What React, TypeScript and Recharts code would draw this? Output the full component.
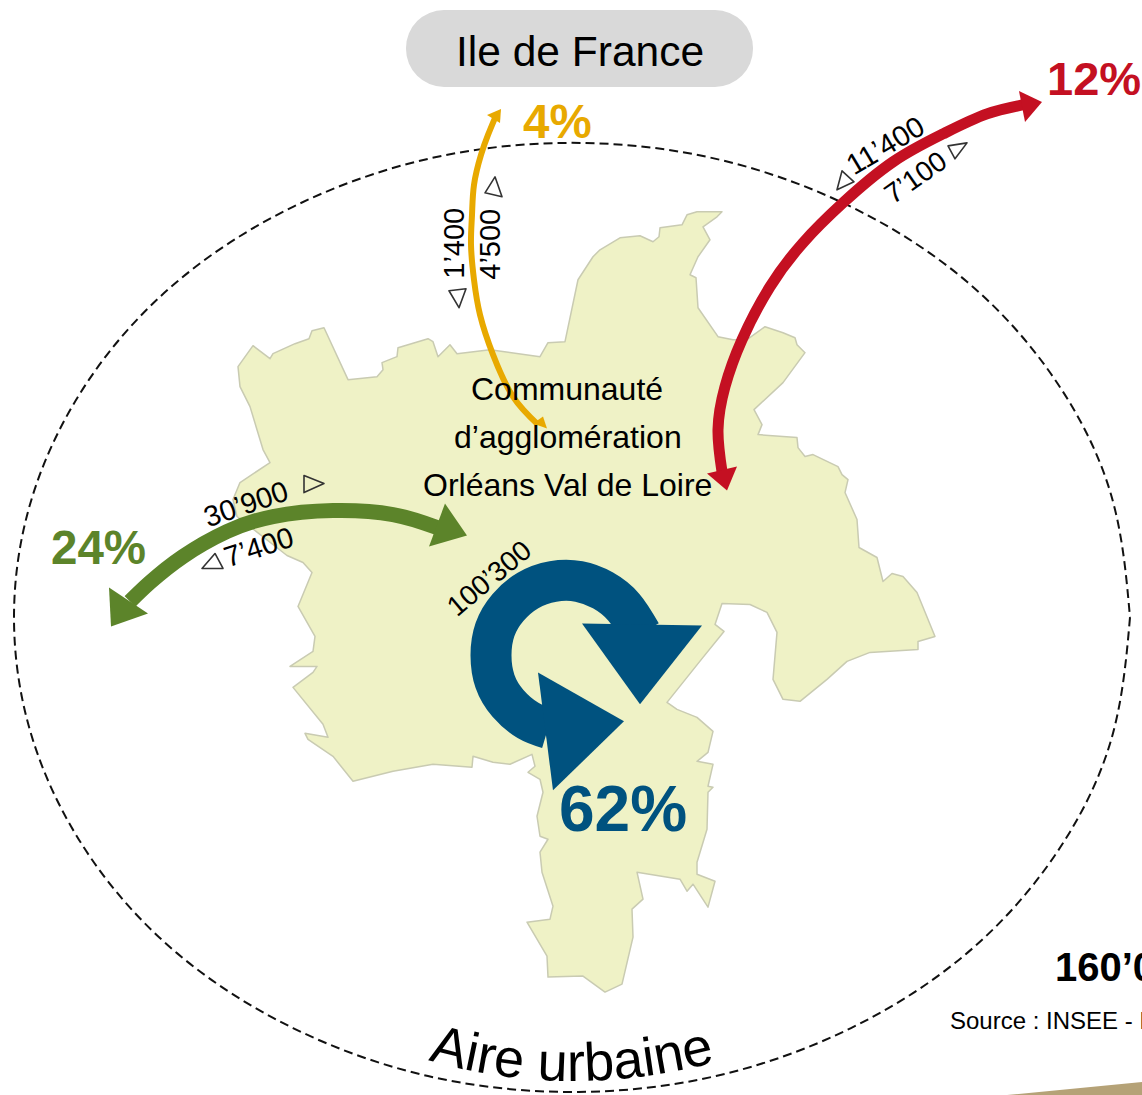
import React from 'react';
import { ScatterChart, Scatter, XAxis, YAxis, ReferenceArea } from 'recharts';

type Pt = { x: number; y: number };
const pts = (rows: number[][]): Pt[] => rows.map(([x, y]) => ({ x, y }));

const regionOutline = pts([
  [238, 367], [253, 346], [270, 359], [273, 354], [295, 344], [309, 339], [312, 331], [324, 328], [348, 380],
  [377, 377], [383, 370], [382, 363], [397, 357], [398, 348], [428, 339], [433, 342], [438, 357], [450, 345],
  [457, 354], [490, 350], [540, 357], [548, 343], [565, 342], [578, 280], [593, 257], [600, 250], [620, 238],
  [640, 236], [653, 242], [659, 237], [660, 228], [682, 225], [687, 215], [697, 212], [722, 212], [717, 217],
  [703, 227], [710, 240], [698, 257], [690, 275], [696, 278], [698, 308], [718, 337], [733, 340], [747, 340],
  [765, 327], [783, 333], [795, 338], [797, 345], [805, 353], [783, 383], [754, 410], [762, 425], [758, 435],
  [797, 438], [798, 448], [805, 457], [813, 455], [838, 467], [842, 475], [848, 480], [845, 493], [857, 520],
  [859, 548], [877, 558], [883, 582], [892, 574], [903, 577], [917, 593], [935, 637], [918, 642], [918, 650],
  [870, 653], [847, 662], [827, 680], [800, 702], [783, 700], [773, 680], [777, 633], [767, 613], [750, 605],
  [722, 604], [715, 625], [724, 632], [703, 658], [667, 703], [677, 710], [697, 718], [713, 732], [708, 753],
  [697, 762], [713, 765], [708, 787], [713, 788], [708, 793], [707, 830], [697, 863], [697, 875], [715, 882],
  [708, 908], [693, 885], [687, 892], [680, 880], [637, 873], [643, 900], [632, 910], [633, 938], [622, 985],
  [605, 993], [583, 977], [548, 978], [547, 957], [527, 923], [550, 920], [553, 907], [542, 873], [540, 853],
  [548, 840], [540, 837], [537, 817], [543, 793], [540, 780], [528, 773], [535, 767], [532, 755], [510, 765],
  [493, 763], [473, 757], [472, 768], [433, 765], [393, 772], [353, 782], [333, 757], [308, 740], [305, 734],
  [328, 738], [323, 725], [293, 688], [313, 673], [317, 667], [290, 667], [313, 652], [315, 637], [298, 607],
  [312, 573], [303, 563], [287, 556], [237, 517], [233, 500], [240, 483], [270, 463], [263, 450], [250, 407],
  [240, 387],
]);

const urbanArea = pts([
  [1130, 618], [1111, 741], [1055, 856], [967, 954], [851, 1029], [716, 1077], [572, 1093], [428, 1077],
  [293, 1029], [177, 954], [89, 856], [33, 741], [14, 618], [33, 495], [89, 380], [177, 282], [293, 207],
  [428, 159], [572, 143], [716, 159], [851, 207], [967, 282], [1055, 380], [1111, 495], [1130, 618],
]);

const idfFlow = pts([[495, 118], [488, 135], [481, 155], [474, 185], [472, 215], [471, 245], [474, 280], [480, 315], [493, 355], [513, 397], [538, 425]]);
const idfHeads = [pts([[501, 109], [487, 115], [500, 123]]), pts([[547, 429], [543, 417], [533, 424]])];

const outerFlow = pts([[1028, 104], [987, 114], [943, 134], [893, 162], [843, 203], [803, 243], [770, 287], [742, 340], [725, 387], [718, 430], [722, 472]]);
const outerHeads = [pts([[1042, 102], [1019, 91], [1025, 122]]), pts([[727, 491], [707, 474], [737, 467]])];

const ringFlow = pts([[437, 528], [393, 515], [333, 511], [273, 517], [227, 532], [183, 557], [150, 583], [130, 602]]);
const ringHeads = [pts([[467, 536], [445, 504], [429, 547]]), pts([[111, 627], [109, 588], [148, 614]])];

const internalFlow = pts([[641, 634], [624, 608], [603, 591], [579, 582], [553, 582], [528, 591], [508, 608], [495, 630], [491, 656], [495, 682], [508, 704], [528, 721], [548, 729]]);
const internalHeads = [pts([[582, 624], [702, 626], [640, 705]]), pts([[538, 673], [624, 722], [553, 791]])];

const directionMarks = [
  pts([[449, 291], [466, 289], [459, 308]]),
  pts([[495, 177], [502, 197], [485, 193]]),
  pts([[842, 171], [854, 182], [837, 190]]),
  pts([[948, 146], [967, 143], [955, 159]]),
  pts([[304, 476], [324, 484], [304, 493]]),
  pts([[215, 554], [223, 569], [202, 569]]),
];

const cornerBand = pts([[1007, 1096], [1142, 1083], [1142, 1096]]);

const destination = 'Ile de France';
const regionLines = ['Communauté', 'd’agglomération', 'Orléans Val de Loire'];
const shares = ['4%', '12%', '24%', '62%'];
const flowCounts = ['1’400', '4’500', '11’400', '7’100', '30’900', '7’400', '100’300'];
const areaName = 'Aire urbaine';
const total = '160’000 emplois';
const source = 'Source : INSEE - RP 2010';

const ORANGE = '#e8a900';
const RED = '#c41022';
const GREEN = '#5c842a';
const BLUE = '#00527f';
const FONT = '"Liberation Sans", Arial, sans-serif';

const NoDot = () => <g />;

const filled = (fill: string, stroke = 'none', strokeWidth = 0) => (p: any) => (
  <path
    d={'M' + p.points.map((q: Pt) => `${q.x},${q.y}`).join('L') + 'Z'}
    fill={fill}
    stroke={stroke}
    strokeWidth={strokeWidth}
    strokeLinejoin="round"
  />
);

const shapeSeries = (key: string, data: Pt[], fill: string, stroke?: string, width?: number) => (
  <Scatter key={key} data={data} shape={NoDot} line={filled(fill, stroke, width)} isAnimationActive={false} />
);

const curveSeries = (key: string, data: Pt[], stroke: string, strokeWidth: number, dash?: string) => (
  <Scatter
    key={key}
    data={data}
    shape={NoDot}
    line={{ stroke, strokeWidth, strokeDasharray: dash }}
    lineJointType="natural"
    isAnimationActive={false}
  />
);

// scatter series come out on top of plain svg children, so the texts are one-point series too
const textSeries = (
  value: string,
  x: number,
  y: number,
  size: number,
  opts: { color?: string; weight?: number; angle?: number } = {}
) => (
  <Scatter
    key={value + x}
    data={[{ x, y }]}
    isAnimationActive={false}
    shape={(p: any) => (
      <text
        x={p.cx}
        y={p.cy}
        transform={opts.angle ? `rotate(${opts.angle} ${p.cx} ${p.cy})` : undefined}
        fontFamily={FONT}
        fontSize={size}
        fontWeight={opts.weight ?? 400}
        fill={opts.color ?? '#000'}
      >
        {value}
      </text>
    )}
  />
);

export default function App() {
  return (
    <div style={{ position: 'absolute', left: 0, top: 0, width: 1142, height: 1095, overflow: 'hidden', background: '#fff' }}>
      <ScatterChart width={1142} height={1095} margin={{ top: 0, right: 0, bottom: 0, left: 0 }}>
        <XAxis type="number" dataKey="x" domain={[0, 1142]} hide />
        <YAxis type="number" dataKey="y" domain={[0, 1095]} reversed hide />

        {shapeSeries('band', cornerBand, '#b5a277')}
        {shapeSeries('region', regionOutline, '#eff2c6', '#c9cbb2', 1.5)}
        {curveSeries('urban', urbanArea, '#111', 2, '9 5')}

        <ReferenceArea x1={406} x2={753} y1={10} y2={87} radius={38} fill="#d9d9d9" fillOpacity={1} stroke="none" />

        {curveSeries('idf', idfFlow, ORANGE, 6)}
        {idfHeads.map((h, i) => shapeSeries(`idf${i}`, h, ORANGE))}
        {curveSeries('outer', outerFlow, RED, 11)}
        {outerHeads.map((h, i) => shapeSeries(`outer${i}`, h, RED))}
        {curveSeries('ring', ringFlow, GREEN, 15)}
        {ringHeads.map((h, i) => shapeSeries(`ring${i}`, h, GREEN))}
        {curveSeries('internal', internalFlow, BLUE, 41)}
        {internalHeads.map((h, i) => shapeSeries(`internal${i}`, h, BLUE))}
        {directionMarks.map((m, i) => shapeSeries(`mark${i}`, m, 'none', '#333', 1.6))}

        {textSeries(destination, 456, 66, 42.5)}
        {textSeries(regionLines[0], 471, 400, 32)}
        {textSeries(regionLines[1], 454, 448, 32)}
        {textSeries(regionLines[2], 423, 496, 32)}

        {textSeries(shares[0], 523, 138, 47.5, { color: ORANGE, weight: 700 })}
        {textSeries(shares[1], 1047, 95, 47, { color: RED, weight: 700 })}
        {textSeries(shares[2], 51, 565, 47.5, { color: GREEN, weight: 700 })}
        {textSeries(shares[3], 559, 832, 64, { color: BLUE, weight: 700 })}

        {textSeries(flowCounts[0], 464, 279, 29, { angle: -90 })}
        {textSeries(flowCounts[1], 500, 280, 29, { angle: -90 })}
        {textSeries(flowCounts[2], 854, 176, 29, { angle: -31 })}
        {textSeries(flowCounts[3], 893, 205, 28, { angle: -35 })}
        {textSeries(flowCounts[4], 208, 528, 29, { angle: -19 })}
        {textSeries(flowCounts[5], 228, 568, 29, { angle: -18 })}
        {textSeries(flowCounts[6], 457, 618, 28, { angle: -40 })}

        <Scatter
          data={[{ x: 570, y: 1080 }]}
          isAnimationActive={false}
          shape={() => (
            <g>
              <defs>
                <path id="areaNamePath" d="M428,1060 Q570,1102 724,1060" fill="none" />
              </defs>
              <text fontFamily={FONT} fontSize={54} fill="#000">
                <textPath href="#areaNamePath">{areaName}</textPath>
              </text>
            </g>
          )}
        />

        {textSeries(total, 1055, 982, 40, { weight: 700 })}
        {textSeries(source, 950, 1030, 24)}
      </ScatterChart>
    </div>
  );
}
